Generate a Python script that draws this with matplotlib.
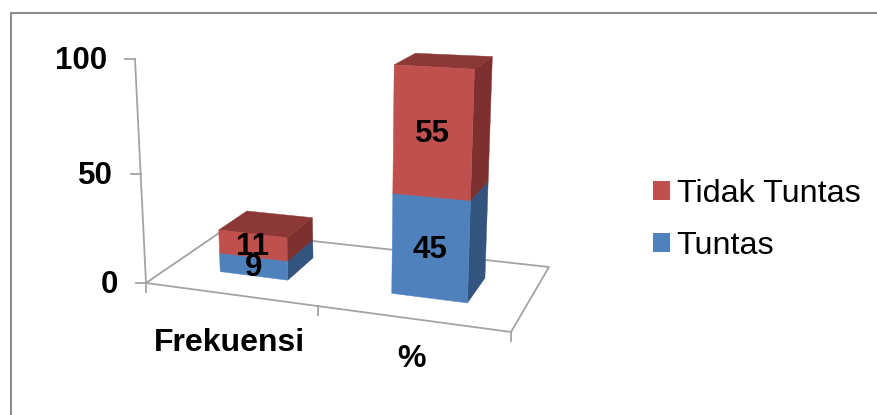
import matplotlib
matplotlib.use("Agg")
import matplotlib.pyplot as plt
from matplotlib.patches import Polygon, Patch

categories = ["Frekuensi", "%"]
series_names = ["Tuntas", "Tidak Tuntas"]
tuntas = [9, 45]
tidak_tuntas = [11, 55]
y_ticks = [0, 50, 100]

BLUE = ("#4F81BD", "#33547E", "#3B5F8C")
RED = ("#C0504D", "#7D302E", "#8C3836")
GRID = "#A3A3A3"
plt.rcParams["font.family"] = ["Liberation Sans", "DejaVu Sans"]

fig = plt.figure(figsize=(8.77, 4.15), dpi=100, facecolor="white")
ax = fig.add_axes([0, 0, 1, 1])
ax.set_xlim(0, 877)
ax.set_ylim(415, 0)
ax.axis("off")

# Projection of the 3-D plot box: (s along categories, t in depth, value)
FLOOR = [(146, 283), (511, 332), (549, 267), (222, 231)]
CEIL = [(135, 59), (521, 84), (560, 50), (212, 38)]
VMAX = 100.0


def bilinear(q, s, t):
    return tuple(
        q[0][i] * (1 - s) * (1 - t) + q[1][i] * s * (1 - t) + q[2][i] * s * t + q[3][i] * (1 - s) * t
        for i in (0, 1)
    )


def project(s, t, v):
    f = v / VMAX
    f = f + 0.05 * f * (f - 1)
    a, b = bilinear(FLOOR, s, t), bilinear(CEIL, s, t)
    return (a[0] + (b[0] - a[0]) * f, a[1] + (b[1] - a[1]) * f)


# Box frame
ax.add_patch(Polygon([(10.5, 430), (10.5, 13.5), (890, 13.5)], closed=False, fill=False,
                     ec="#8C8C8C", lw=1.5, zorder=1))
floor_pts = [project(s, t, 0) for s, t in [(0, 0), (1, 0), (1, 1), (0, 1)]]
ax.add_patch(Polygon(floor_pts, closed=True, fill=False, ec=GRID, lw=1.3, zorder=2))
p0, p1 = project(0, 0, 0), project(0, 0, VMAX)
ax.plot([p0[0], p1[0]], [p0[1], p1[1]], color=GRID, lw=1.3, zorder=2)

for v in y_ticks:
    x, y = project(0, 0, v)
    ax.plot([x - 10, x], [y, y], color=GRID, lw=1.3, zorder=2)
    ax.text(x - 28, y + 2, str(v), ha="right", va="center", fontsize=22.5, fontweight="bold", color="black")

for s in (0, 0.471, 1):
    x, y = project(s, 0, 0)
    ax.plot([x, x], [y, y + 8.5], color=GRID, lw=1.3, zorder=2)

# Bars
BAR_S = [(0.138, 0.330), (0.625, 0.840)]
BAR_T = (0.337, 0.734)


def box(s0, s1, v0, v1, colors, z):
    t0, t1 = BAR_T
    front = [project(s0, t0, v0), project(s1, t0, v0), project(s1, t0, v1), project(s0, t0, v1)]
    side = [project(s1, t0, v0), project(s1, t1, v0), project(s1, t1, v1), project(s1, t0, v1)]
    top = [project(s0, t0, v1), project(s1, t0, v1), project(s1, t1, v1), project(s0, t1, v1)]
    for pts, c in zip((side, top, front), (colors[1], colors[2], colors[0])):
        ax.add_patch(Polygon(pts, closed=True, fc=c, ec=c, lw=0.3, zorder=z))


for i, (s0, s1) in enumerate(BAR_S):
    a, b = tuntas[i], tidak_tuntas[i]
    box(s0, s1, 0, a, BLUE, 3 + i)
    box(s0, s1, a, a + b, RED, 3 + i)
    sm = (s0 + s1) / 2
    for v, val in ((a / 2, a), (a + b / 2, b)):
        x, y = project(sm, BAR_T[0], v)
        ax.text(x - 0.5, y + 1.5, str(val), ha="center", va="center", fontsize=22.5, fontweight="bold",
                color="black", zorder=10)

# Category labels
for name, x, y in zip(categories, (229.5, 412), (351, 367)):
    ax.text(x, y, name, ha="center", va="baseline", fontsize=23, fontweight="bold", color="black")

# Legend
handles = [Patch(fc=RED[0], ec="none", label=series_names[1]), Patch(fc=BLUE[0], ec="none", label=series_names[0])]
ax.legend(handles=handles, loc="upper left", bbox_to_anchor=(653, 179), bbox_transform=ax.transData,
          frameon=False, fontsize=23.3, borderpad=0, borderaxespad=0, handlelength=0.53, handleheight=0.53,
          handletextpad=0.2, labelspacing=0.68)

fig.savefig("out.png", dpi=100, facecolor="white")
